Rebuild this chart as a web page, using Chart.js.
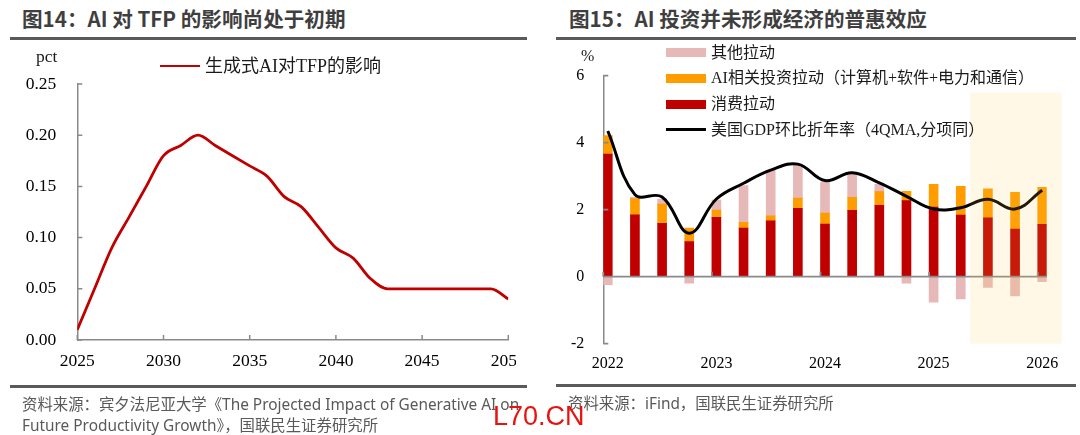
<!DOCTYPE html>
<html>
<head>
<meta charset="utf-8">
<script src="https://cdn.jsdelivr.net/npm/chart.js@4.4.1/dist/chart.umd.min.js"></script>
<style>
  body { margin: 0; width: 1080px; height: 435px; position: relative; overflow: hidden; background: #fff; }
  .abs { position: absolute; white-space: nowrap; }
  .title { font-family: "Noto Sans CJK SC", sans-serif; font-weight: bold; font-size: 20.6px; line-height: 20px; color: #3f3f3f; top: 8px; }
  .rule { position: absolute; height: 3px; background: #5a5a5a; }
  .src { font-family: "Noto Sans", "Noto Sans CJK SC", sans-serif; font-size: 15.4px; line-height: 21px; color: #595959; }
  .serif { font-family: "Liberation Serif", "Noto Sans CJK SC", serif; color: #1a1a1a; }
  .leg { font-size: 16px; line-height: 18px; }
  .sw { position: absolute; width: 40px; height: 9px; }
  canvas { display: block; }
</style>
</head>
<body>
<div class="abs title" style="left:22px">图14：AI 对 TFP 的影响尚处于初期</div>
<div class="rule" style="left:10px;width:517px;top:37px"></div>
<div class="abs title" style="left:569px">图15：AI 投资并未形成经济的普惠效应</div>
<div class="rule" style="left:556px;width:520px;top:37px"></div>

<div class="abs" style="left:0;top:0;width:516px;height:400px;overflow:hidden">
  <canvas id="tfpChart" width="540" height="400"></canvas>
</div>
<canvas id="gdpChart" class="abs" style="left:540px;top:0" width="540" height="400"></canvas>

<!-- left legend / unit -->
<div class="abs serif" style="left:36px;top:47px;font-size:17.5px;line-height:18px">pct</div>
<div class="abs" style="left:160px;top:64.6px;width:40px;height:2.8px;background:#c00000"></div>
<div class="abs serif" style="left:205px;top:56px;font-size:18px;line-height:20px">生成式AI对TFP的影响</div>

<!-- right legend / unit -->
<div class="abs serif" style="left:581px;top:48px;font-size:16px;line-height:16px">%</div>
<div class="sw" style="left:666px;top:48px;background:#e6b9b8"></div>
<div class="abs serif leg" style="left:711px;top:43.5px">其他拉动</div>
<div class="sw" style="left:666px;top:73.5px;background:#ff9c00"></div>
<div class="abs serif leg" style="left:711px;top:69px">AI相关投资拉动（计算机+软件+电力和通信）</div>
<div class="sw" style="left:666px;top:99.5px;background:#c00000"></div>
<div class="abs serif leg" style="left:711px;top:95px">消费拉动</div>
<div class="abs" style="left:666px;top:128px;width:40px;height:3px;background:#000"></div>
<div class="abs serif leg" style="left:711px;top:120.5px">美国GDP环比折年率（4QMA,分项同）</div>

<div class="rule" style="left:10px;width:517px;top:385px"></div>
<div class="rule" style="left:556px;width:520px;top:384px"></div>
<div class="abs src" style="left:22px;top:394px">资料来源：宾夕法尼亚大学《The Projected Impact of Generative AI on<br>Future Productivity Growth》，国联民生证券研究所</div>
<div class="abs src" style="left:568px;top:393px">资料来源：iFind，国联民生证券研究所</div>
<div class="abs" style="left:493px;top:403px;font-family:'Liberation Sans',sans-serif;font-size:27px;line-height:27px;color:#e8120f">L70.CN</div>

<script>
// 图14：生成式AI对TFP的影响 (pct)
const tfpYears = [2025, 2026, 2027, 2028, 2029, 2030, 2031, 2032, 2033, 2034, 2035, 2036, 2037,
    2038, 2039, 2040, 2041, 2042, 2043, 2044, 2045, 2046, 2047, 2048, 2049, 2050];
const tfpImpact = [0.01, 0.05, 0.09, 0.12, 0.15, 0.18, 0.19, 0.20, 0.19, 0.18, 0.17, 0.16, 0.14,
    0.13, 0.11, 0.09, 0.08, 0.06, 0.05, 0.05, 0.05, 0.05, 0.05, 0.05, 0.05, 0.04];

// 图15：美国GDP拉动拆分 (%)
const quarters = ['2022Q1', '2022Q2', '2022Q3', '2022Q4', '2023Q1', '2023Q2', '2023Q3', '2023Q4',
    '2024Q1', '2024Q2', '2024Q3', '2024Q4', '2025Q1', '2025Q2', '2025Q3', '2025Q4', '2026Q1'];
const consumptionPull = [3.66, 1.85, 1.59, 1.05, 1.77, 1.45, 1.67, 2.04, 1.57, 1.98, 2.13, 2.27, 2.08, 1.84, 1.76, 1.42, 1.56];
const aiInvestPull = [0.55, 0.48, 0.58, 0.40, 0.22, 0.17, 0.15, 0.31, 0.33, 0.39, 0.41, 0.28, 0.68, 0.86, 0.86, 1.10, 1.11];
const otherPull = [-0.24, 0.04, 0.15, -0.19, 0.30, 1.10, 1.36, 1.01, 0.92, 0.70, 0.22, -0.19, -0.76, -0.66, -0.32, -0.57, -0.15];
const gdpAnnualized = [4.35, 2.45, 2.38, 1.30, 2.32, 2.79, 3.18, 3.36, 2.87, 3.10, 2.80, 2.40, 2.02, 2.06, 2.31, 2.02, 2.58];

const serif = size => ({ family: '"Liberation Serif", "Times New Roman", serif', size: size });
const axisGray = '#8a8a8a';

// short inward tick marks (and optional zero line) drawn on top of the data
const axisMarks = {
    id: 'axisMarks',
    afterDatasetsDraw(chart, args, opts) {
        const { ctx, chartArea: area, scales: { x, y } } = chart;
        const base = y.getPixelForValue(opts.base);
        ctx.save();
        ctx.strokeStyle = opts.color;
        ctx.lineWidth = opts.width;
        ctx.beginPath();
        if (opts.baseLine) {
            ctx.moveTo(area.left, base);
            ctx.lineTo(area.right, base);
        }
        y.ticks.forEach(t => {
            const py = y.getPixelForValue(t.value);
            ctx.moveTo(area.left, py);
            ctx.lineTo(area.left + opts.len, py);
        });
        x.ticks.forEach(t => {
            const px = x.getPixelForValue(t.value) - opts.shift;
            ctx.moveTo(px, base);
            ctx.lineTo(px, base - opts.len);
        });
        ctx.stroke();
        ctx.restore();
    }
};

// translucent band over the forecast quarters
const forecastShade = {
    id: 'forecastShade',
    afterDatasetsDraw(chart, args, opts) {
        const { ctx, scales: { x, y } } = chart;
        const x0 = x.getPixelForValue(opts.from), x1 = x.getPixelForValue(opts.to);
        const y0 = y.getPixelForValue(opts.top), y1 = y.getPixelForValue(opts.bottom);
        ctx.save();
        ctx.fillStyle = opts.color;
        ctx.fillRect(x0, y0, x1 - x0, y1 - y0);
        ctx.restore();
    }
};

const noGrid = { display: false, drawTicks: false };

new Chart(document.getElementById('tfpChart'), {
    type: 'line',
    data: {
        datasets: [{
            label: '生成式AI对TFP的影响',
            data: tfpYears.map((yr, i) => ({ x: yr, y: tfpImpact[i] })),
            borderColor: '#c00000',
            borderWidth: 2.8,
            pointRadius: 0,
            cubicInterpolationMode: 'monotone',
            fill: false
        }]
    },
    options: {
        responsive: false,
        animation: false,
        layout: { autoPadding: false, padding: { left: 0, top: 84, right: 31.7, bottom: 0 } },
        plugins: {
            legend: { display: false },
            tooltip: { enabled: false },
            axisMarks: { base: 0, baseLine: false, color: axisGray, width: 1.5, len: 5, shift: 0 }
        },
        scales: {
            x: {
                type: 'linear', min: 2025, max: 2050,
                afterFit: s => { s.height = 60; },
                grid: noGrid,
                border: { display: true, color: axisGray, width: 1.5 },
                ticks: { stepSize: 5, padding: 11, maxRotation: 0, autoSkip: false, color: '#000', font: serif(17.5), callback: v => String(v) }
            },
            y: {
                min: 0, max: 0.25,
                afterFit: s => { s.width = 77.3; },
                grid: noGrid,
                border: { display: true, color: axisGray, width: 1.5 },
                ticks: { stepSize: 0.05, padding: 21, color: '#000', font: serif(17.5), callback: v => v.toFixed(2) }
            }
        }
    },
    plugins: [axisMarks]
});

const barWidth = 9;
const barSet = (label, values, color) => ({
    type: 'bar',
    label: label,
    data: quarters.map((q, i) => ({ x: i, y: values[i] })),
    backgroundColor: color,
    barThickness: barWidth,
    order: 1
});

new Chart(document.getElementById('gdpChart'), {
    type: 'bar',
    data: {
        datasets: [
            {
                type: 'line',
                label: '美国GDP环比折年率（4QMA,分项同）',
                data: quarters.map((q, i) => ({ x: i, y: gdpAnnualized[i] })),
                borderColor: '#000',
                borderWidth: 3,
                pointRadius: 0,
                tension: 0.4,
                fill: false,
                order: 0
            },
            barSet('消费拉动', consumptionPull, '#c00000'),
            barSet('AI相关投资拉动（计算机+软件+电力和通信）', aiInvestPull, '#ff9c00'),
            barSet('其他拉动', otherPull, '#e6b9b8')
        ]
    },
    options: {
        responsive: false,
        animation: false,
        layout: { autoPadding: false, padding: { left: 0, top: 75.7, right: 33.3, bottom: 0 } },
        plugins: {
            legend: { display: false },
            tooltip: { enabled: false },
            axisMarks: { base: 0, baseLine: true, color: axisGray, width: 1.8, len: 5, shift: barWidth / 2 },
            forecastShade: { from: 13.34, to: 16.72, top: 5.5, bottom: -2, color: 'rgba(255,201,63,0.13)' }
        },
        scales: {
            x: {
                type: 'linear', min: -0.165, max: 16.165, offset: false, stacked: true,
                afterFit: s => { s.height = 56.3; },
                afterBuildTicks: s => {
                    s.ticks = quarters.map((q, i) => ({ value: i })).filter(t => quarters[t.value].endsWith('Q1'));
                },
                grid: noGrid,
                border: { display: false },
                ticks: { padding: 10.7, maxRotation: 0, autoSkip: false, color: '#000', font: serif(16), callback: v => quarters[v].slice(0, 4) }
            },
            y: {
                min: -2, max: 6, stacked: true,
                afterFit: s => { s.width = 63.3; },
                grid: noGrid,
                border: { display: true, color: axisGray, width: 1.5 },
                ticks: { stepSize: 2, padding: 19, color: '#000', font: serif(16), callback: v => String(v) }
            }
        }
    },
    plugins: [axisMarks, forecastShade]
});
</script>
</body>
</html>
